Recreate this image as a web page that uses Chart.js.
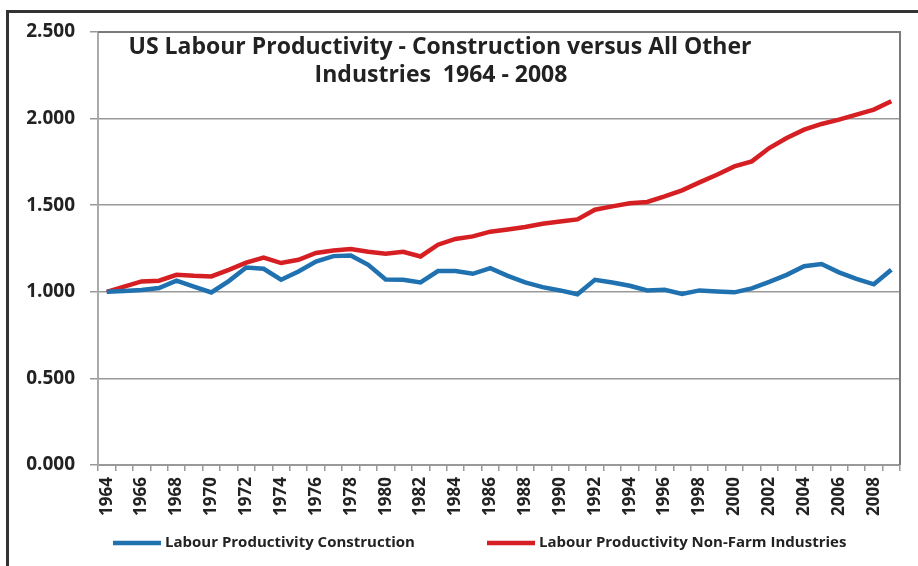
<!DOCTYPE html>
<html><head><meta charset="utf-8">
<script src="https://cdn.jsdelivr.net/npm/chart.js@4.4.0/dist/chart.umd.min.js"></script>
<style>
html,body{margin:0;padding:0;background:#fff;}
#wrap{position:relative;width:918px;height:566px;overflow:hidden;}
#frame{position:absolute;left:6px;top:10px;right:-4px;bottom:-4px;border-left:3px solid #333;border-top:3px solid #333;pointer-events:none;}
canvas{display:block;}
</style></head><body>
<div id="wrap"><canvas id="c" width="918" height="566"></canvas><div id="frame"></div></div>
<script>
const years = ["1964","1965","1966","1967","1968","1969","1970","1971","1972","1973",
  "1974","1975","1976","1977","1978","1979","1980","1981","1982","1983",
  "1984","1985","1986","1987","1988","1989","1990","1991","1992","1993",
  "1994","1995","1996","1997","1998","1999","2000","2001","2002","2003",
  "2004","2005","2006","2007","2008","2009"];
const shownYearLabels = ["1964","1966","1968","1970","1972","1974","1976","1978","1980","1982",
  "1984","1986","1988","1990","1992","1994","1996","1998","2000","2002","2004","2006","2008"];
const construction = [1.000,1.005,1.010,1.022,1.064,1.030,0.996,1.062,1.140,1.133,
  1.070,1.117,1.175,1.206,1.209,1.156,1.071,1.070,1.054,1.120,
  1.120,1.104,1.137,1.092,1.054,1.027,1.008,0.986,1.069,1.054,
  1.035,1.008,1.012,0.988,1.008,1.002,0.997,1.020,1.057,1.098,
  1.148,1.160,1.112,1.075,1.043,1.127];
const nonFarm = [1.000,1.030,1.060,1.064,1.098,1.092,1.089,1.127,1.168,1.198,
  1.166,1.185,1.224,1.239,1.247,1.231,1.220,1.231,1.204,1.272,
  1.305,1.320,1.347,1.360,1.374,1.393,1.406,1.418,1.474,1.493,
  1.511,1.519,1.551,1.586,1.632,1.676,1.724,1.753,1.830,1.888,
  1.936,1.969,1.994,2.023,2.052,2.100];
const seriesNames = ["Labour Productivity Construction","Labour Productivity Non-Farm Industries"];
const titleLines = ["US Labour Productivity - Construction versus All Other","Industries  1964 - 2008"];
const yTickValues = [0,0.5,1,1.5,2,2.5];

const FONT = "'Open Sans', Lato, sans-serif";
const BLUE = '#2071b0', RED = '#d61f22';

const framePlugin = {
  id: 'frameTitleLegend',
  afterDatasetsDraw(chart) {
    const {ctx, chartArea: a} = chart;
    ctx.save();
    // plot-area frame (top and right)
    ctx.strokeStyle = '#7a7a7a';
    ctx.lineWidth = 2;
    ctx.beginPath();
    ctx.moveTo(a.left, a.top); ctx.lineTo(a.right, a.top); ctx.lineTo(a.right, a.bottom);
    ctx.stroke();
    // title inside plot area
    ctx.fillStyle = '#222';
    ctx.font = "bold 23px " + FONT;
    ctx.textAlign = 'center';
    ctx.textBaseline = 'middle';
    ctx.fillText(titleLines[0], 440, 47);
    ctx.fillText(titleLines[1], 441, 75);
    // legend
    const legendX = [113, 487];
    const ly = 543;
    ctx.font = "bold 15px " + FONT;
    ctx.textAlign = 'left';
    chart.data.datasets.forEach((ds, i) => {
      const x = legendX[i];
      ctx.strokeStyle = ds.borderColor;
      ctx.lineWidth = 4.5;
      ctx.lineCap = 'butt';
      ctx.beginPath(); ctx.moveTo(x, ly); ctx.lineTo(x + 48, ly); ctx.stroke();
      ctx.fillStyle = '#222';
      ctx.fillText(ds.label, x + 52, ly);
    });
    ctx.restore();
  }
};

new Chart(document.getElementById('c'), {
  type: 'line',
  data: {
    labels: years,
    datasets: [
      {label: seriesNames[0], data: construction, borderColor: BLUE, backgroundColor: BLUE,
       borderWidth: 4.5, pointRadius: 0, tension: 0},
      {label: seriesNames[1], data: nonFarm, borderColor: RED, backgroundColor: RED,
       borderWidth: 4.5, pointRadius: 0, tension: 0}
    ]
  },
  options: {
    responsive: false,
    animation: false,
    layout: {padding: {left: 14, top: 32, right: 18, bottom: 45}},
    plugins: {
      legend: {display: false},
      title: {display: false},
      tooltip: {enabled: false}
    },
    scales: {
      x: {
        offset: true,
        afterFit(s) { s.height = 56; },
        grid: {offset: true, drawOnChartArea: false, drawTicks: true, tickLength: 6, color: '#999', lineWidth: 1.5},
        border: {display: true, color: '#999', width: 2},
        ticks: {autoSkip: false, minRotation: 90, maxRotation: 90, padding: 6, color: '#222',
                font: {family: FONT, size: 17, weight: 'bold'},
                callback(v, i) { const l = years[i]; return shownYearLabels.includes(l) ? l : ''; }}
      },
      y: {
        min: 0, max: 2.5,
        afterFit(s) { s.width = 84; },
        afterBuildTicks(s) { s.ticks = yTickValues.map(v => ({value: v})); },
        grid: {color: '#999', lineWidth: 1.5, tickLength: 8},
        border: {display: true, color: '#aaa', width: 2},
        ticks: {padding: 15, color: '#222', font: {family: FONT, size: 19, weight: 'bold'},
                callback(v) { return Number(v).toFixed(3); }}
      }
    }
  },
  plugins: [framePlugin]
});
</script>
</body></html>
